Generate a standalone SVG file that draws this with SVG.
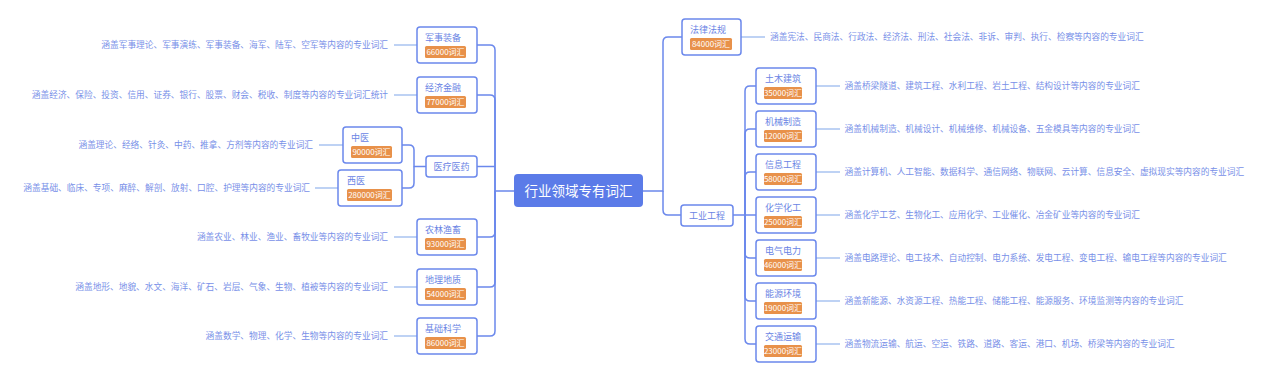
<svg xmlns="http://www.w3.org/2000/svg" width="1266" height="382" viewBox="0 0 1266 382">
<style>
.bg{fill:#ffffff}
.box{fill:#ffffff;stroke:#6b88ec;stroke-width:1.5}
.badge{fill:#e8914a}
.t{font-family:"Noto Sans CJK SC","Noto Sans",sans-serif;font-size:9px;fill:#6a84e4}
.bt{font-family:"Noto Sans CJK SC","Noto Sans",sans-serif;font-size:8px;fill:#ffffff;text-anchor:middle}
.d{font-family:"Noto Sans CJK SC","Noto Sans",sans-serif;font-size:8.7px;fill:#7890e8}
.de{text-anchor:end}
.c{fill:none;stroke:#6b88ec;stroke-width:1.5}
.dl{fill:none;stroke:#a9c3f1;stroke-width:1.5}
.ct{font-family:"Noto Sans CJK SC","Noto Sans",sans-serif;font-size:13.5px;fill:#ffffff;text-anchor:middle}
</style>
<rect class="bg" x="0" y="0" width="1266" height="382"/>
<g id="connectors">
<path class="c" d="M477,45 H490 Q495,45 495,50 V191 H514"/>
<path class="c" d="M477,95 H490 Q495,95 495,100 V191"/>
<path class="c" d="M477,166.5 H495"/>
<path class="c" d="M477,237 H490 Q495,237 495,232 V191"/>
<path class="c" d="M477,287 H490 Q495,287 495,282 V191"/>
<path class="c" d="M477,336 H490 Q495,336 495,331 V191"/>
<path class="c" d="M402,145 H409 Q414,145 414,150 V166.5 H426"/>
<path class="c" d="M402,188 H409 Q414,188 414,183 V166.5"/>
<path class="c" d="M643,191 H663 V42 Q663,37 668,37 H682"/>
<path class="c" d="M663,191 V210 Q663,215 668,215 H681"/>
<path class="c" d="M733,215 H756"/>
<path class="c" d="M745,215 V91 Q745,86 750,86 H756"/>
<path class="c" d="M745,215 V134 Q745,129 750,129 H756"/>
<path class="c" d="M745,215 V177 Q745,172 750,172 H756"/>
<path class="c" d="M745,215 V253 Q745,258 750,258 H756"/>
<path class="c" d="M745,215 V296 Q745,301 750,301 H756"/>
<path class="c" d="M745,215 V339 Q745,344 750,344 H756"/>
<path class="dl" d="M394,45 H417 M394,95 H417 M319,145 H343 M315,188 H338 M394,237 H417 M394,287 H417 M394,336 H417"/>
<path class="dl" d="M741,37 H765 M816,86 H840 M816,129 H840 M816,172 H840 M816,215 H840 M816,258 H840 M816,301 H840 M816,344 H840"/>
</g>
<g id="root">
<rect x="514" y="174" width="129" height="33" rx="4" fill="#5b7be8"/>
<text class="ct" x="578.5" y="196">行业领域专有词汇</text>
</g>
<g id="n-junshi">
<rect class="box" x="417" y="27" width="60" height="36" rx="3"/>
<text class="t" x="425" y="41">军事装备</text>
<rect class="badge" x="425" y="46" width="41" height="12" rx="1.5"/>
<text class="bt" x="445.5" y="55">66000词汇</text>
<text class="d de" x="388" y="48">涵盖军事理论、军事演练、军事装备、海军、陆军、空军等内容的专业词汇</text>
</g>
<g id="n-jingji">
<rect class="box" x="417" y="77" width="60" height="36" rx="3"/>
<text class="t" x="425" y="91">经济金融</text>
<rect class="badge" x="425" y="96" width="41" height="12" rx="1.5"/>
<text class="bt" x="445.5" y="105">77000词汇</text>
<text class="d de" x="388" y="98">涵盖经济、保险、投资、信用、证券、银行、股票、财会、税收、制度等内容的专业词汇统计</text>
</g>
<g id="n-yiliao">
<rect class="box" x="426" y="156" width="51" height="21" rx="3"/>
<text class="t" x="451.5" y="169.5" text-anchor="middle">医疗医药</text>
</g>
<g id="n-zhongyi">
<rect class="box" x="343" y="127" width="59" height="36" rx="3"/>
<text class="t" x="351" y="141">中医</text>
<rect class="badge" x="351" y="146" width="41" height="12" rx="1.5"/>
<text class="bt" x="371.5" y="155">90000词汇</text>
<text class="d de" x="313" y="148">涵盖理论、经络、针灸、中药、推拿、方剂等内容的专业词汇</text>
</g>
<g id="n-xiyi">
<rect class="box" x="338" y="170" width="64" height="36" rx="3"/>
<text class="t" x="347" y="184">西医</text>
<rect class="badge" x="347" y="189" width="45" height="12" rx="1.5"/>
<text class="bt" x="369.5" y="198">280000词汇</text>
<text class="d de" x="310" y="191">涵盖基础、临床、专项、麻醉、解剖、放射、口腔、护理等内容的专业词汇</text>
</g>
<g id="n-nonglin">
<rect class="box" x="417" y="219" width="60" height="36" rx="3"/>
<text class="t" x="425" y="233">农林渔畜</text>
<rect class="badge" x="425" y="238" width="41" height="12" rx="1.5"/>
<text class="bt" x="445.5" y="247">93000词汇</text>
<text class="d de" x="388" y="240">涵盖农业、林业、渔业、畜牧业等内容的专业词汇</text>
</g>
<g id="n-dili">
<rect class="box" x="417" y="269" width="60" height="36" rx="3"/>
<text class="t" x="425" y="283">地理地质</text>
<rect class="badge" x="425" y="288" width="41" height="12" rx="1.5"/>
<text class="bt" x="445.5" y="297">54000词汇</text>
<text class="d de" x="388" y="290">涵盖地形、地貌、水文、海洋、矿石、岩层、气象、生物、植被等内容的专业词汇</text>
</g>
<g id="n-jichu">
<rect class="box" x="417" y="318" width="60" height="36" rx="3"/>
<text class="t" x="425" y="332">基础科学</text>
<rect class="badge" x="425" y="337" width="41" height="12" rx="1.5"/>
<text class="bt" x="445.5" y="346">86000词汇</text>
<text class="d de" x="388" y="339">涵盖数学、物理、化学、生物等内容的专业词汇</text>
</g>
<g id="n-falv">
<rect class="box" x="682" y="19" width="59" height="36" rx="3"/>
<text class="t" x="690" y="33">法律法规</text>
<rect class="badge" x="690" y="38" width="42" height="12" rx="1.5"/>
<text class="bt" x="711" y="47">84000词汇</text>
<text class="d" x="770" y="40">涵盖宪法、民商法、行政法、经济法、刑法、社会法、非诉、审判、执行、检察等内容的专业词汇</text>
</g>
<g id="n-gongye">
<rect class="box" x="681" y="205" width="52" height="21" rx="3"/>
<text class="t" x="707" y="218.5" text-anchor="middle">工业工程</text>
</g>
<g id="n-tumu">
<rect class="box" x="756" y="68" width="60" height="36" rx="3"/>
<text class="t" x="765" y="82">土木建筑</text>
<rect class="badge" x="764" y="87" width="38" height="12" rx="1.5"/>
<text class="bt" x="783" y="96">35000词汇</text>
<text class="d" x="844.5" y="89">涵盖桥梁隧道、建筑工程、水利工程、岩土工程、结构设计等内容的专业词汇</text>
</g>
<g id="n-jixie">
<rect class="box" x="756" y="111" width="60" height="36" rx="3"/>
<text class="t" x="765" y="125">机械制造</text>
<rect class="badge" x="764" y="130" width="38" height="12" rx="1.5"/>
<text class="bt" x="783" y="139">12000词汇</text>
<text class="d" x="844.5" y="132">涵盖机械制造、机械设计、机械维修、机械设备、五金模具等内容的专业词汇</text>
</g>
<g id="n-xinxi">
<rect class="box" x="756" y="154" width="60" height="36" rx="3"/>
<text class="t" x="765" y="168">信息工程</text>
<rect class="badge" x="764" y="173" width="38" height="12" rx="1.5"/>
<text class="bt" x="783" y="182">58000词汇</text>
<text class="d" x="844.5" y="175">涵盖计算机、人工智能、数据科学、通信网络、物联网、云计算、信息安全、虚拟现实等内容的专业词汇</text>
</g>
<g id="n-huaxue">
<rect class="box" x="756" y="197" width="60" height="36" rx="3"/>
<text class="t" x="765" y="211">化学化工</text>
<rect class="badge" x="764" y="216" width="38" height="12" rx="1.5"/>
<text class="bt" x="783" y="225">25000词汇</text>
<text class="d" x="844.5" y="218">涵盖化学工艺、生物化工、应用化学、工业催化、冶金矿业等内容的专业词汇</text>
</g>
<g id="n-dianqi">
<rect class="box" x="756" y="240" width="60" height="36" rx="3"/>
<text class="t" x="765" y="254">电气电力</text>
<rect class="badge" x="764" y="259" width="38" height="12" rx="1.5"/>
<text class="bt" x="783" y="268">46000词汇</text>
<text class="d" x="844.5" y="261">涵盖电路理论、电工技术、自动控制、电力系统、发电工程、变电工程、输电工程等内容的专业词汇</text>
</g>
<g id="n-nengyuan">
<rect class="box" x="756" y="283" width="60" height="36" rx="3"/>
<text class="t" x="765" y="297">能源环境</text>
<rect class="badge" x="764" y="302" width="38" height="12" rx="1.5"/>
<text class="bt" x="783" y="311">19000词汇</text>
<text class="d" x="844.5" y="304">涵盖新能源、水资源工程、热能工程、储能工程、能源服务、环境监测等内容的专业词汇</text>
</g>
<g id="n-jiaotong">
<rect class="box" x="756" y="326" width="60" height="36" rx="3"/>
<text class="t" x="765" y="340">交通运输</text>
<rect class="badge" x="764" y="345" width="38" height="12" rx="1.5"/>
<text class="bt" x="783" y="354">23000词汇</text>
<text class="d" x="844.5" y="347">涵盖物流运输、航运、空运、铁路、道路、客运、港口、机场、桥梁等内容的专业词汇</text>
</g>
</svg>
